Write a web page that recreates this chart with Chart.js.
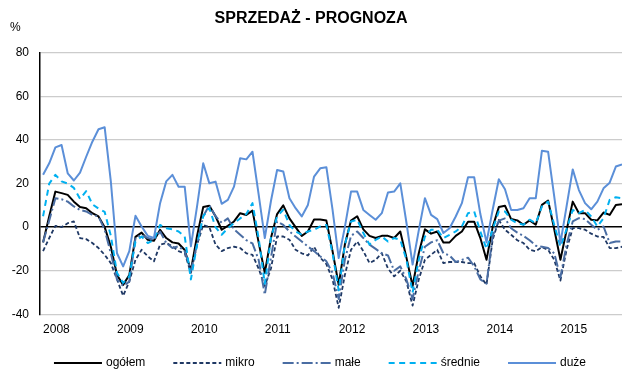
<!DOCTYPE html>
<html>
<head>
<meta charset="utf-8">
<script src="https://cdn.jsdelivr.net/npm/chart.js@4.4.1/dist/chart.umd.min.js"></script>
<style>
  html, body { margin: 0; padding: 0; background: #ffffff; }
  #wrap { width: 622px; height: 372px; }
</style>
</head>
<body>
<div id="wrap"><canvas id="c" width="622" height="372"></canvas></div>
<script>
// Year labels (one label at each January)
const years = ['2008', '2009', '2010', '2011', '2012', '2013', '2014', '2015'];

// Monthly balances, January 2008 – November 2015 (%)
const ogolem = [
  -7, 5, 16.3, 15.6, 14.8, 11.7, 9.2, 8.7, 6.4, 4.9, 0, -9,
  -22, -26.5, -22, -4.5, -2.5, -5.8, -6.2, -1.2, -5, -7, -7.5, -10.5,
  -20, -4, 9.2, 9.8, 5, -1.2, 0.6, 2.6, 6.4, 5.6, 7.6, -7,
  -21, -5, 6, 10, 4, 0, -4, -2, 3.5, 3.5, 3, -11,
  -26.5, -8, 3, 5, -1, -4, -5, -4, -4, -5, -2, -14,
  -27, -12, -1, -3, -2, -7, -7, -4, -2, 2.5, 2.5, -5,
  -15, 0, 9.2, 9.8, 3.7, 3.1, 1.1, 3.1, 1.1, 10.2, 12.2, -1,
  -15, -1.5, 11.7, 6.4, 6.4, 3.4, 3.1, 6.7, 5.6, 10.2, 10.5
];
const mikro = [
  -11, -5, 0.6, 0, 1.8, 2.6, -5, -5.5, -7.3, -9.6, -12.7, -16.5,
  -24, -31.5, -25, -15, -10.4, -13.4, -15.7, -8, -7.3, -8.8, -11, -12,
  -21, -8, 1, 0, -8, -11, -9.6, -9, -9.6, -12, -12.7, -19,
  -27, -19, -4.3, -4.3, -5.8, -10.4, -12, -13, -9, -14, -17, -24,
  -37, -22, -10.4, -6.6, -11, -16.5, -15, -12, -19, -22.6, -20, -25,
  -36, -24, -15, -12.7, -10.4, -16.5, -16, -16, -16, -16.5, -16.5, -22.6,
  -26.4, -5.8, 3.3, -1.2, -3.5, -6, -7.3, -10.4, -11.1, -9.2, -10.4, -15,
  -24.5, -10.4, -0.5, -0.5, -1.2, -3, -4.3, -4.5, -9.6, -9.6, -9
];
const male = [
  -7, 3, 13.3, 12.8, 11.7, 9.5, 7.9, 7.2, 5.6, 4.9, -1.2, -12,
  -24, -27, -25, -5, -3.5, -5, -5.8, -2, -7.3, -9.6, -8.8, -11.1,
  -20, -8, 5, 10, 5, 2, 4, -1, -3.5, -6, -7.5, -15,
  -31, -14, 2.6, 1, -2, -4.3, -6.6, -8.9, -11, -13.4, -15.7, -21,
  -33, -15, -4, -2, -5, -8, -10, -12, -13, -20, -18, -24,
  -33, -20, -9, -7, -6, -12, -13, -16, -15, -14, -18, -24,
  -26, -4, 3, 4, -0.5, -2.5, -4, -6, -8.5, -9, -9.6, -12,
  -23, -8, 2.6, 4.1, 3.7, 1.1, -1.2, 0.3, -7.3, -6.6, -6.6
];
const srednie = [
  5, 20, 24, 21, 20, 18, 13, 16.5, 10.5, 8.5, 7, -4,
  -21, -25.6, -22.6, -6.6, -4.3, -7.3, -5.8, 1, -0.5, -1, -2, -4.3,
  -24, -8, 5, 8.7, 0, -3.5, -0.5, 1.8, 4, 6, 11, -5,
  -26, -5, 5, 8, 1, -2, -3.5, -2, -1.2, 0.3, 1, -12,
  -29, -8, 2.6, 3.4, -2.7, -8, -5.8, -4.3, -6.6, -5, -5.8, -15,
  -30, -15, -4.3, -1.2, -1.2, -5, -3.5, -2, 0.3, 6.4, 7.2, -2,
  -10, -1, 7.2, 7.2, 3.4, 1.8, 1.1, 3.4, 1.8, 9.5, 11.7, 1,
  -9, -1, 7.9, 6.4, 7.9, 4.9, 0.3, 4.1, 12.5, 13.7, 13.3
];
const duze = [
  24, 29.3, 36.6, 37.7, 24.7, 21.4, 25, 32.3, 39.2, 44.9, 45.8, 21,
  -12, -18, -11, 5.2, 0.3, -4, -5, 11, 21, 24, 18.5, 18.5,
  -8.8, 9.5, 29.3, 20.1, 20.9, 10.7, 12.5, 18.6, 31.6, 31.1, 34.6, 15,
  -5, 12, 26.2, 25.5, 13.3, 8.7, 4.9, 10.2, 23.2, 27, 27.5, 8,
  -14.2, 0, 16.3, 16.3, 7.9, 5.6, 3.4, 6.4, 15.9, 16.3, 20.1, 2,
  -17.2, -1.5, 13.3, 5.6, 3.7, -2.7, -0.5, 4.9, 11, 22.9, 22.9, 6,
  -7, 8, 22, 17.4, 7.9, 7.9, 8.7, 13.3, 13.3, 35.1, 34.6, 14,
  -7.3, 9.5, 26.5, 17, 11, 8.2, 11.7, 17.8, 20.4, 27.8, 28.8
];

const seriesNames = ['ogółem', 'mikro', 'małe', 'średnie', 'duże'];
const seriesValues = [ogolem, mikro, male, srednie, duze];
const seriesStyles = [
  { color: '#000000', width: 2.0, dash: [] },
  { color: '#1F3864', width: 1.8, dash: [4, 2.5] },
  { color: '#4A6DA3', width: 2.0, dash: [11, 3, 2, 3] },
  { color: '#00B0F0', width: 2.0, dash: [6, 4.5] },
  { color: '#5B8FD8', width: 2.0, dash: [] }
];

const FONT = '"Liberation Sans", Arial, sans-serif';

const datasets = seriesNames.map((name, k) => ({
  label: name,
  data: seriesValues[k].map((v, i) => ({ x: i, y: v })),
  borderColor: seriesStyles[k].color,
  backgroundColor: seriesStyles[k].color,
  borderWidth: seriesStyles[k].width,
  borderDash: seriesStyles[k].dash,
  borderJoinStyle: 'round',
  borderCapStyle: 'butt',
  pointRadius: 0,
  tension: 0,
  fill: false,
  order: seriesNames.length - k
}));

// Title, unit label and the legend row under the axis
const decorations = {
  id: 'decorations',
  afterDraw(chart) {
    const ctx = chart.ctx;
    ctx.save();
    ctx.fillStyle = '#000';
    ctx.textBaseline = 'middle';

    ctx.font = 'bold 16px ' + FONT;
    ctx.textAlign = 'center';
    ctx.fillText('SPRZEDAŻ - PROGNOZA', 311, 19);

    ctx.font = '12px ' + FONT;
    ctx.textAlign = 'left';
    ctx.fillText('%', 10, 28);

    const lineLen = 48, textGap = 4, itemGap = 28, y = 363;
    const widths = seriesNames.map(n => lineLen + textGap + ctx.measureText(n).width);
    const total = widths.reduce((a, b) => a + b, 0) + itemGap * (widths.length - 1);
    let x = 320 - total / 2;
    seriesNames.forEach((name, k) => {
      const st = seriesStyles[k];
      ctx.beginPath();
      ctx.setLineDash(st.dash);
      ctx.lineWidth = st.width;
      ctx.strokeStyle = st.color;
      ctx.moveTo(x, y);
      ctx.lineTo(x + lineLen, y);
      ctx.stroke();
      ctx.setLineDash([]);
      ctx.fillStyle = '#000';
      ctx.fillText(name, x + lineLen + textGap, y);
      x += widths[k] + itemGap;
    });
    ctx.restore();
  }
};

new Chart(document.getElementById('c'), {
  type: 'line',
  data: { datasets },
  options: {
    responsive: false,
    animation: false,
    devicePixelRatio: 1,
    layout: { padding: { top: 52.8, right: 0, bottom: 0, left: 0 } },
    plugins: {
      legend: { display: false },
      title: { display: false },
      tooltip: { enabled: false }
    },
    scales: {
      x: {
        type: 'linear',
        min: -0.5,
        max: 94,
        afterBuildTicks: s => { s.ticks = years.map((_, k) => ({ value: k * 12 })); },
        afterFit: s => { s.height = 372 - 314.3; },
        grid: { display: false, drawTicks: false },
        border: { display: false },
        ticks: {
          autoSkip: false,
          maxRotation: 0,
          align: 'start',
          padding: 8,
          color: '#000',
          font: { family: FONT, size: 12 },
          callback: v => years[Math.round(v / 12)]
        }
      },
      y: {
        min: -40,
        max: 80,
        afterFit: s => { s.width = 40; },
        grid: {
          drawTicks: false,
          color: c => (c.tick.value === 0 ? '#000000' : '#cccccc'),
          lineWidth: c => (c.tick.value === 0 ? 1.6 : 1.3)
        },
        border: { display: true, color: '#000000', width: 1.5 },
        ticks: {
          stepSize: 20,
          padding: 11,
          color: '#000',
          font: { family: FONT, size: 12 }
        }
      }
    }
  },
  plugins: [decorations]
});
</script>
</body>
</html>
